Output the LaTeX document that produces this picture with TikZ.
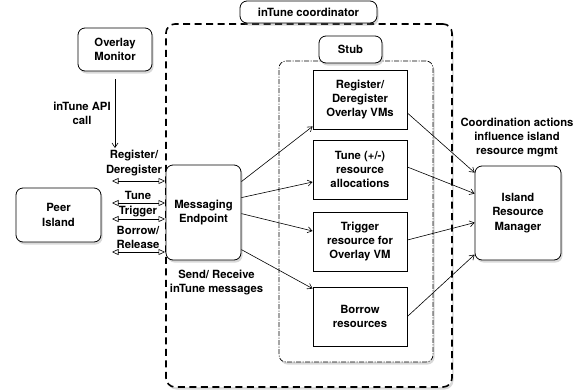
\documentclass[tikz,border=0pt]{standalone}
\usepackage{fontspec}
\setmainfont{TeX Gyre Heros}
\usetikzlibrary{arrows.meta,shadows}
\begin{document}
\begin{tikzpicture}[x=1pt,y=-1pt,
  every node/.style={font=\bfseries\fontsize{11.3}{14.3}\selectfont, align=center, inner sep=0pt},
  shad/.style={drop shadow={shadow xshift=1.5pt,shadow yshift=-2.5pt,opacity=0.3}},
  rbox/.style={draw, line width=0.8pt, rounded corners=7pt, fill=white, shad},
  sbox/.style={draw, line width=0.8pt, fill=white},
  outerbox/.style={draw, line width=1.6pt, dash pattern=on 7pt off 4.5pt, rounded corners=9pt, fill=white, shad},
  stubbox/.style={draw, line width=0.7pt, dash pattern=on 5pt off 1.5pt on 1pt off 1.5pt, rounded corners=7pt, fill=white, shad},
  arr/.style={line width=0.6pt, -{Straight Barb[length=4.5pt,width=6pt]}},
  darr/.style={line width=0.6pt, {Triangle[open,length=6.5pt,width=6pt]}-{Triangle[open,length=6.5pt,width=6pt]}}
]
\useasboundingbox (0,0) rectangle (588,391);
% containers
\node[outerbox, minimum width=286pt, minimum height=363pt] (coord) at (309,205.5) {};
\node[rbox, minimum width=137pt, minimum height=22pt] (coordlabel) at (308.5,12) {inTune coordinator};
\node[stubbox, minimum width=154pt, minimum height=301pt] (stub) at (356,211.5) {};
\node[rbox, minimum width=63pt, minimum height=27pt] (stublabel) at (350.5,49.5) {Stub};
% boxes
\node[rbox, minimum width=74pt, minimum height=43pt] (om) at (115,49.5) {Overlay\\Monitor};
\node[rbox, minimum width=85pt, minimum height=54pt] (peer) at (58.5,215) {Peer\\Island};
\node[rbox, minimum width=75pt, minimum height=95pt] (me) at (203.5,212.5) {Messaging\\Endpoint};
\node[rbox, minimum width=86pt, minimum height=94pt] (irm) at (518,213) {Island\\Resource\\Manager};
\node[sbox, minimum width=94pt, minimum height=59pt] (reg) at (360,99.5) {Register/\\Deregister\\Overlay VMs};
\node[sbox, minimum width=94pt, minimum height=59pt] (tune) at (360,169.5) {Tune (+/-)\\resource\\allocations};
\node[sbox, minimum width=94pt, minimum height=59pt] (trig) at (360,241.5) {Trigger\\resource for\\Overlay VM};
\node[sbox, minimum width=94pt, minimum height=59pt] (borrow) at (360,316.5) {Borrow\\resources};
% labels
\node (lapi) at (82,113) {inTune API\\call};
\node (lreg) at (134,163) {Register/\\Deregister};
\node (ltune) at (138,195) {Tune};
\node (ltrig) at (138,212) {Trigger};
\node (lbor) at (138,237.5) {Borrow/\\Release};
\node (lsend) at (216.5,282.5) {Send/ Receive\\inTune messages};
\node (lcoord) at (517,137.5) {Coordination actions\\influence island\\resource mgmt};
% overlay monitor api call
\coordinate (apiend) at (115,148);
\draw[arr] ([yshift=-8pt]om.south) -- (apiend);
% peer double arrows
\coordinate (d1a) at (112,181); \coordinate (d1b) at (165,181);
\coordinate (d2a) at (112,203); \coordinate (d2b) at (165,203);
\coordinate (d3a) at (112,219); \coordinate (d3b) at (165,219);
\coordinate (d4a) at (112,252); \coordinate (d4b) at (165,252);
\draw[darr] (d1a) -- (d1b);
\draw[darr] (d2a) -- (d2b);
\draw[darr] (d3a) -- (d3b);
\draw[darr] (d4a) -- (d4b);
% messaging endpoint to stub
\draw[arr] ([yshift=-17pt]me.north east) -- ([yshift=3pt]reg.south west);
\draw[arr] ([yshift=-33pt]me.north east) -- ([yshift=-12.5pt]tune.west);
\draw[arr] ([yshift=-49pt]me.north east) -- ([yshift=10.5pt]trig.west);
\draw[arr] ([yshift=-85pt]me.north east) -- ([yshift=-2pt]borrow.north west);
% stub to IRM
\draw[arr] ([yshift=-13.5pt]reg.east) -- ([yshift=-7pt]irm.north west);
\draw[arr] ([yshift=2.5pt]tune.east) -- ([yshift=-28pt]irm.north west);
\draw[arr] ([yshift=1.5pt]trig.east) -- ([yshift=-57pt]irm.north west);
\draw[arr] (borrow.east) -- ([yshift=-89pt]irm.north west);
\end{tikzpicture}
\end{document}
